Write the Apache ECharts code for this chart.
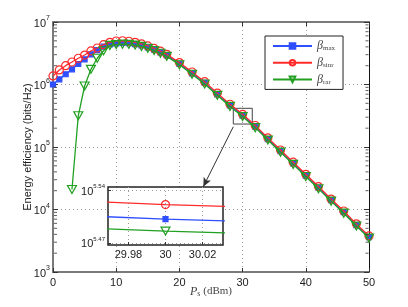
<!DOCTYPE html>
<html><head><meta charset="utf-8">
<script src="https://cdn.jsdelivr.net/npm/echarts@6/dist/echarts.min.js"></script>
<style>html,body{margin:0;padding:0;background:#fff}#c{width:408px;height:307px}</style>
</head><body><div id="c"></div>
<script>
// Transmit power P_s (dBm)
const xPs = [0,1,2,3,4,5,6,7,8,9,10,11,12,13,14,15,16,17,18,20,22,24,26,28,30,32,34,36,38,40,42,44,46,48,50];
// Energy efficiency (bits/Hz)
const betaMax = [1.00e6,1.21e6,1.46e6,1.75e6,2.13e6,2.53e6,3.04e6,3.56e6,4.03e6,4.37e6,4.55e6,4.61e6,4.57e6,4.42e6,4.21e6,3.93e6,3.61e6,3.27e6,2.92e6,
  2.14e6,1.51e6,1.06e6,6.95e5,4.61e5,3.187e5,2.11e5,1.34e5,8.55e4,5.46e4,3.49e4,2.23e4,1.41e4,9.04e3,5.62e3,3.61e3];
const betaSinr = [1.37e6,1.71e6,2.00e6,2.29e6,2.63e6,2.96e6,3.44e6,3.84e6,4.34e6,4.73e6,4.97e6,5.01e6,4.92e6,4.73e6,4.47e6,4.14e6,3.78e6,3.41e6,3.04e6,
  2.24e6,1.585e6,1.11e6,7.28e5,4.83e5,3.33e5,2.21e5,1.40e5,8.95e4,5.72e4,3.66e4,2.33e4,1.47e4,9.46e3,5.89e3,3.78e3];
const betaRar = [null,null,null,2.09e4,3.16e5,9.46e5,1.75e6,2.63e6,3.47e6,4.22e6,4.35e6,4.42e6,4.39e6,4.27e6,4.07e6,3.80e6,3.49e6,3.16e6,2.82e6,
  2.07e6,1.46e6,1.02e6,6.71e5,4.46e5,3.068e5,2.04e5,1.29e5,8.26e4,5.27e4,3.37e4,2.15e4,1.36e4,8.73e3,5.43e3,3.48e3];
const seriesNames = ['max','sinr','rar'];
const xTicks = [0,10,20,30,40,50];
const yMinorTicks = [2e3,3e3,4e3,5e3,6e3,7e3,8e3,9e3,2e4,3e4,4e4,5e4,6e4,7e4,8e4,9e4,2e5,3e5,4e5,5e5,6e5,7e5,8e5,9e5,2e6,3e6,4e6,5e6,6e6,7e6,8e6,9e6];
const insetXTicks = [29.98, 30, 30.02];
const insetYTicks = [295121, 346737]; // 10^5.47, 10^5.54
const insetYLabels = ['5.47', '5.54'];
// zoom rectangle and arrow (data coordinates of main axes)
const zoomBox = [[28.53, 4.16e5], [31.53, 2.33e5]];
const arrowPath = [[28.53, 2.11e5], [23.78, 2.32e4]];

const colors = ['#2f4fff', '#ff2b2b', '#22a022'];
const pairs = arr => xPs.map((x, i) => [x, arr[i]]).filter(p => p[1] != null);
const values = [betaMax, betaSinr, betaRar];
const symbols = [
  {symbol: 'rect', symbolSize: 5, fill: colors[0]},
  {symbol: 'circle', symbolSize: 8, fill: 'rgba(0,0,0,0)'},
  {symbol: 'triangle', symbolSize: [9, 8], fill: 'rgba(0,0,0,0)', rotate: 180}
];
const gridLine = {show: true, lineStyle: {color: '#9a9a9a', type: [1, 3], width: 1}};
const sans = 'Liberation Sans, Arial, sans-serif';
const serif = 'Liberation Serif, DejaVu Serif, serif';

function mkSeries(i, axisIdx) {
  const main = axisIdx === 0;
  const s = {
    type: 'line',
    name: seriesNames[i],
    xAxisIndex: main ? 0 : 2,
    yAxisIndex: main ? 0 : 2,
    data: pairs(values[i]),
    symbol: symbols[i].symbol,
    symbolSize: symbols[i].symbolSize,
    symbolRotate: symbols[i].rotate || 0,
    showSymbol: true,
    clip: true,
    z: main ? 2 + i : 12 + i,
    lineStyle: {color: colors[i], width: 1.3},
    itemStyle: {color: symbols[i].fill, borderColor: colors[i], borderWidth: 1.2},
    emphasis: {disabled: true},
    animation: false
  };
  if (main && i === 1) {
    s.markArea = {silent: true, itemStyle: {color: 'rgba(0,0,0,0)', borderColor: '#444', borderWidth: 1},
      data: [[{coord: zoomBox[0]}, {coord: zoomBox[1]}]]};
    s.markLine = {silent: true, symbol: ['none', 'arrow'], symbolSize: [6, 9], label: {show: false},
      lineStyle: {color: '#333', width: 1, type: 'solid'},
      data: [[{coord: arrowPath[0]}, {coord: arrowPath[1]}]]};
  }
  return s;
}

// minor log ticks on the left (x=0) and right (x=50) frame
function minorTickSeries(xEdge, offset) {
  return {
    type: 'scatter', xAxisIndex: 0, yAxisIndex: 0, silent: true, clip: false, z: 6,
    data: yMinorTicks.map(v => [xEdge, v]),
    symbol: 'rect', symbolSize: [3, 1], symbolOffset: [offset, 0],
    itemStyle: {color: '#333'}, animation: false
  };
}

const expLabel = v => '{b|10}{s|' + Math.round(Math.log10(v)) + '}';
const chart = echarts.init(document.getElementById('c'), null, {renderer: 'canvas'});
chart.setOption({
  animation: false,
  backgroundColor: '#fff',
  grid: [
    {left: 53, right: 39, top: 22, bottom: 35},
    {left: 108, top: 187, width: 115, height: 58, show: true, backgroundColor: '#fff', borderColor: '#222', borderWidth: 1.5, z: 8}
  ],
  legend: {
    data: seriesNames,
    left: 265, top: 36,
    orient: 'vertical',
    backgroundColor: '#fff', borderColor: '#222', borderWidth: 1,
    padding: [4, 8, 4, 7],
    itemWidth: 39, itemHeight: 7, itemGap: 4.7,
    z: 20,
    formatter: n => '{b|β}{s|' + n + '}',
    textStyle: {rich: {
      b: {fontFamily: serif, fontStyle: 'italic', fontSize: 12, lineHeight: 12, color: '#444'},
      s: {fontFamily: serif, fontSize: 7, lineHeight: 12, padding: [5, 0, 0, 0], color: '#444'}
    }}
  },
  xAxis: [
    {type: 'value', gridIndex: 0, min: 0, max: 50, interval: 10, position: 'bottom',
      axisLine: {show: true, onZero: false, lineStyle: {color: '#7a7a7a', width: 2}},
      axisTick: {show: true, inside: true, length: 4, lineStyle: {color: '#333'}},
      axisLabel: {fontFamily: sans, fontSize: 11, color: '#222', margin: 5},
      splitLine: gridLine,
      name: '{i|P}{sub|s}{r| (dBm)}', nameLocation: 'middle', nameGap: 13, nameMoveOverlap: false,
      nameTextStyle: {rich: {
        i: {fontFamily: serif, fontStyle: 'italic', fontSize: 12, color: '#444'},
        sub: {fontFamily: serif, fontSize: 8, padding: [5, 0, 0, 0], color: '#444'},
        r: {fontFamily: serif, fontSize: 11, color: '#444'}
      }}},
    {type: 'value', gridIndex: 0, min: 0, max: 50, interval: 10, position: 'top',
      axisLine: {show: true, onZero: false, lineStyle: {color: '#7a7a7a', width: 2}},
      axisTick: {show: true, inside: true, length: 4, lineStyle: {color: '#333'}},
      axisLabel: {show: false}, splitLine: {show: false}},
    {type: 'value', gridIndex: 1, min: 29.969, max: 30.031, position: 'bottom', z: 9,
      axisLine: {show: false},
      axisTick: {show: true, inside: true, length: 3, customValues: insetXTicks, lineStyle: {color: '#333'}},
      axisLabel: {fontFamily: sans, fontSize: 11, color: '#222', margin: 4, customValues: insetXTicks},
      splitLine: gridLine}
  ],
  yAxis: [
    {type: 'log', logBase: 10, gridIndex: 0, min: 1e3, max: 1e7, position: 'left',
      axisLine: {show: true, onZero: false, lineStyle: {color: '#7a7a7a', width: 2}},
      axisTick: {show: true, inside: true, length: 5, lineStyle: {color: '#333'}},
      axisLabel: {formatter: expLabel, margin: 3, rich: {
        b: {fontFamily: sans, fontSize: 11, color: '#222', lineHeight: 14, verticalAlign: 'bottom'},
        s: {fontFamily: sans, fontSize: 7, color: '#222', lineHeight: 14, verticalAlign: 'top'}
      }},
      splitLine: gridLine,
      name: 'Energy efficiency (bits/Hz)', nameLocation: 'middle', nameGap: 20, nameMoveOverlap: false,
      nameTextStyle: {fontFamily: sans, fontSize: 11, color: '#222'}},
    {type: 'log', logBase: 10, gridIndex: 0, min: 1e3, max: 1e7, position: 'right',
      axisLine: {show: true, onZero: false, lineStyle: {color: '#111', width: 1}},
      axisTick: {show: true, inside: true, length: 5, lineStyle: {color: '#333'}},
      axisLabel: {show: false}, splitLine: {show: false}},
    {type: 'value', gridIndex: 1, min: 293100, max: 350300, position: 'left', z: 9,
      axisLine: {show: false},
      axisTick: {show: true, inside: true, length: 3, customValues: insetYTicks, lineStyle: {color: '#333'}},
      axisLabel: {customValues: insetYTicks, margin: 3,
        formatter: v => '{b|10}{s|' + insetYLabels[v > 320000 ? 1 : 0] + '}',
        rich: {
          b: {fontFamily: sans, fontSize: 11, color: '#222', lineHeight: 14, verticalAlign: 'bottom'},
          s: {fontFamily: sans, fontSize: 6, color: '#222', lineHeight: 14, verticalAlign: 'top'}
        }},
      splitLine: gridLine}
  ],
  series: [0, 1, 2].map(i => mkSeries(i, 0))
    .concat([0, 1, 2].map(i => mkSeries(i, 1)))
    .concat([minorTickSeries(0, 2.5), minorTickSeries(50, -2)])
});
</script></body></html>
